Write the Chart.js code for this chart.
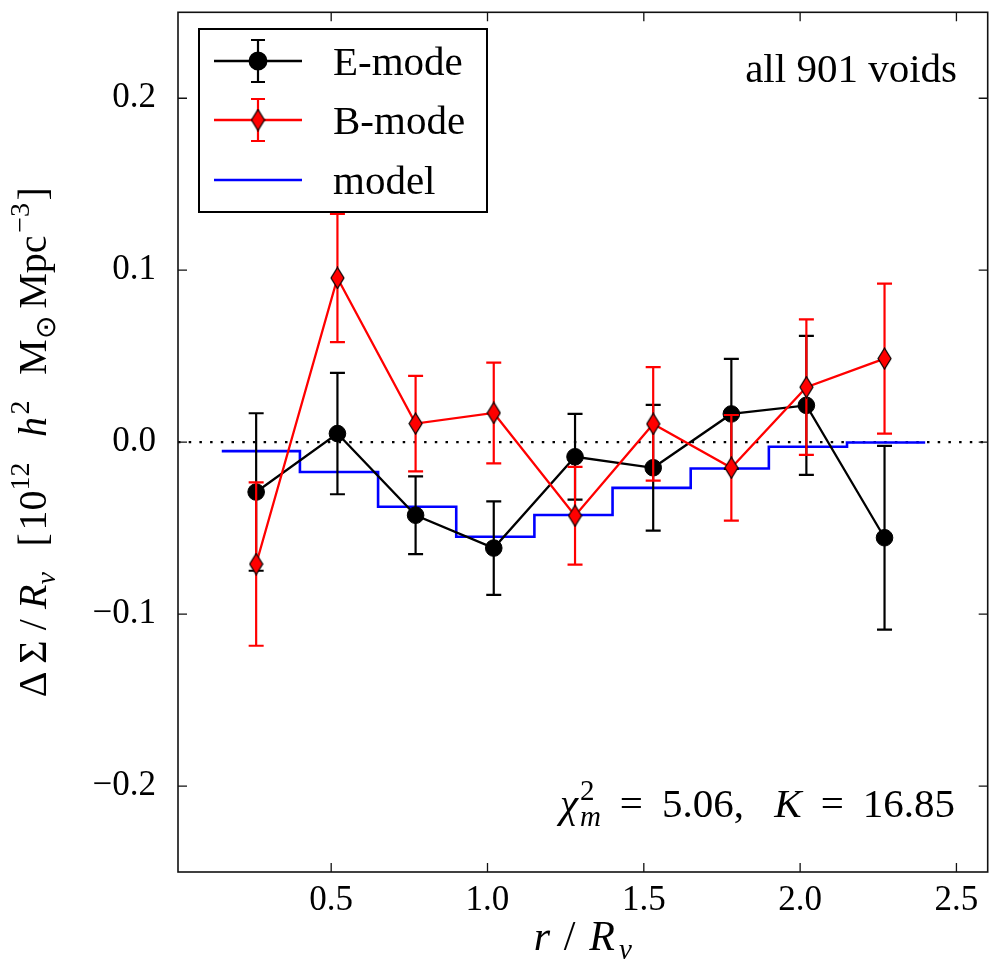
<!DOCTYPE html>
<html>
<head>
<meta charset="utf-8">
<script src="https://cdn.jsdelivr.net/npm/chart.js@4.4.1/dist/chart.umd.min.js"></script>
<style>
html,body{margin:0;padding:0;background:#fff;}
canvas{display:block;}
</style>
</head>
<body>
<canvas id="voidChart" width="1000" height="972"></canvas>
<script>
// measured points, r/R_v
const radii = [0.26, 0.52, 0.77, 1.02, 1.28, 1.53, 1.78, 2.02, 2.27];
const eMode = [-0.029, 0.005, -0.0425, -0.0616, -0.0085, -0.0149, 0.0164, 0.0214, -0.0556];
const eModeErr = [0.0458, 0.0353, 0.0226, 0.0272, 0.0249, 0.0366, 0.032, 0.0404, 0.0534];
const bMode = [-0.0709, 0.0955, 0.0108, 0.017, -0.0428, 0.0106, -0.0149, 0.032, 0.0486];
const bModeErr = [0.0475, 0.0373, 0.0278, 0.0293, 0.0284, 0.033, 0.0307, 0.0394, 0.0436];
// model = step function, one level per bin
const modelEdges = [0.15, 0.4, 0.65, 0.9, 1.15, 1.4, 1.65, 1.9, 2.15, 2.4];
const modelLevels = [-0.0052, -0.0174, -0.0376, -0.055, -0.0424, -0.0266, -0.0153, -0.0027, -0.0002];
const xTicks = [0.5, 1.0, 1.5, 2.0, 2.5];
const xTickLabels = ["0.5", "1.0", "1.5", "2.0", "2.5"];
const yTicks = [-0.2, -0.1, 0.0, 0.1, 0.2];
const yTickLabels = ["\u22120.2", "\u22120.1", "0.0", "0.1", "0.2"];
const xRange = [0.01, 2.6];
const yRange = [-0.25, 0.25];

const SERIF = "'Liberation Serif', serif";

function makeDiamond(w, h){
  const c = document.createElement("canvas");
  c.width = w + 2; c.height = h + 2;
  const g = c.getContext("2d");
  g.beginPath();
  g.moveTo(c.width/2, 1);
  g.lineTo(c.width - 1, c.height/2);
  g.lineTo(c.width/2, c.height - 1);
  g.lineTo(1, c.height/2);
  g.closePath();
  g.fillStyle = "#ff0000"; g.fill();
  g.lineWidth = 1.2; g.strokeStyle = "#000"; g.stroke();
  return c;
}
const diamond = makeDiamond(13, 21);

// small rich-text helper (italic / sup / sub pieces), spread out to a target width
function segFont(s, size){
  const f = (s.sup || s.sub) ? size*0.7 : size;
  return (s.it ? "italic " : "") + Math.round(f) + "px " + SERIF;
}
function layoutRich(ctx, segs, size, target){
  let w = 0, held = 0, g = 0;
  const widths = segs.map(s => { ctx.font = segFont(s, size); return ctx.measureText(s.t).width; });
  segs.forEach((s, i) => {
    if (s.hold) held = widths[i]; else { w += Math.max(widths[i], held); held = 0; }
    g += s.gap || 0;
  });
  const k = g > 0 ? Math.max(0, (target - w)/g) : 0;
  return {widths, k, total: target ? Math.max(target, w) : w};
}
function drawRich(ctx, segs, x, y, size, target){
  const L = layoutRich(ctx, segs, size, target);
  let cx = x, held = 0;
  segs.forEach((s, i) => {
    ctx.font = segFont(s, size);
    const dy = s.sup ? -0.42*size : (s.sub ? 0.22*size : 0);
    ctx.fillText(s.t, cx, y + dy);
    const sw = L.widths[i] + (s.gap || 0)*L.k;
    if (s.hold) held = sw; else { cx += Math.max(sw, held); held = 0; }
  });
  return L.total;
}

const yTitle = [
  {t:"\u0394", gap:0.3}, {t:"\u03a3", gap:0.4}, {t:"/", gap:0.4}, {t:"R", it:1}, {t:"v", it:1, sub:1, gap:1},
  {t:"[", gap:0.1}, {t:"10"}, {t:"12", sup:1, gap:1}, {t:"h", it:1, gap:0.1}, {t:"2", sup:1, gap:1},
  {t:"M"}, {t:"\u2299", sub:1, gap:0.3}, {t:"Mpc", gap:0.1}, {t:"\u22123", sup:1, gap:0.1}, {t:"]"}
];
const xTitle = [{t:"r", it:1, gap:1}, {t:"/", gap:1}, {t:"R", it:1, gap:0.3}, {t:"v", it:1, sub:1}];
const chiNote = [
  {t:"\u03c7", it:1, gap:0.1}, {t:"2", sup:1, hold:1}, {t:"m", it:1, sub:1, gap:1},
  {t:"=", gap:1}, {t:"5.06,", gap:1.6}, {t:"K", it:1, gap:1}, {t:"=", gap:1}, {t:"16.85"}
];

const errorBars = {
  id: "errorBars",
  beforeDatasetDraw(chart, args){
    const ds = chart.data.datasets[args.index];
    if(!ds.errors) return;
    const ctx = chart.ctx, ys = chart.scales.y, a = chart.chartArea;
    ctx.save();
    ctx.beginPath(); ctx.rect(a.left, a.top, a.right - a.left, a.bottom - a.top); ctx.clip();
    ctx.strokeStyle = ds.borderColor; ctx.lineWidth = 2.2;
    args.meta.data.forEach((pt, i) => {
      const v = ds.data[i].y, e = ds.errors[i];
      const top = ys.getPixelForValue(v + e), bot = ys.getPixelForValue(v - e);
      ctx.beginPath();
      ctx.moveTo(pt.x, top); ctx.lineTo(pt.x, bot);
      ctx.moveTo(pt.x - 7.5, top); ctx.lineTo(pt.x + 7.5, top);
      ctx.moveTo(pt.x - 7.5, bot); ctx.lineTo(pt.x + 7.5, bot);
      ctx.stroke();
    });
    ctx.restore();
  }
};

const frameAndText = {
  id: "frameAndText",
  afterDatasetsDraw(chart){
    const ctx = chart.ctx, a = chart.chartArea;
    const xs = chart.scales.x, ys = chart.scales.y;
    ctx.save();
    // spines + inward ticks on all four sides
    ctx.strokeStyle = "#111"; ctx.lineWidth = 1.6;
    ctx.strokeRect(a.left, a.top, a.right - a.left, a.bottom - a.top);
    ctx.lineWidth = 1.3;
    ctx.beginPath();
    xTicks.forEach(v => {
      const px = xs.getPixelForValue(v);
      ctx.moveTo(px, a.bottom); ctx.lineTo(px, a.bottom - 9);
      ctx.moveTo(px, a.top); ctx.lineTo(px, a.top + 9);
    });
    yTicks.forEach(v => {
      const py = ys.getPixelForValue(v);
      ctx.moveTo(a.left, py); ctx.lineTo(a.left + 9, py);
      ctx.moveTo(a.right, py); ctx.lineTo(a.right - 9, py);
    });
    ctx.stroke();

    ctx.fillStyle = "#000";
    ctx.textBaseline = "alphabetic";
    ctx.textAlign = "left";
    // axis titles
    drawRich(ctx, xTitle, (a.left + a.right)/2 - 49, 950, 42, 98);
    ctx.save();
    ctx.translate(46, (a.top + a.bottom)/2);
    ctx.rotate(-Math.PI/2);
    drawRich(ctx, yTitle, -255, 0, 40, 510);
    ctx.restore();

    // annotations
    ctx.font = "41px " + SERIF;
    ctx.textAlign = "right";
    ctx.fillText("all 901 voids", 957, 82);
    ctx.textAlign = "left";
    drawRich(ctx, chiNote, 560, 817, 41, 395);

    // legend box
    const box = {l:199, t:29, r:487, b:212};
    const rows = [61, 120, 180];
    ctx.fillStyle = "#fff";
    ctx.fillRect(box.l, box.t, box.r - box.l, box.b - box.t);
    ctx.strokeStyle = "#000"; ctx.lineWidth = 2;
    ctx.strokeRect(box.l, box.t, box.r - box.l, box.b - box.t);
    chart.data.datasets.filter(d => d.label).forEach((d, i) => {
      const y = rows[i];
      ctx.strokeStyle = d.borderColor;
      if(d.errors){
        ctx.lineWidth = 2.2;
        ctx.beginPath();
        ctx.moveTo(258, y - 21); ctx.lineTo(258, y + 21);
        ctx.moveTo(251, y - 21); ctx.lineTo(265, y - 21);
        ctx.moveTo(251, y + 21); ctx.lineTo(265, y + 21);
        ctx.stroke();
      }
      ctx.lineWidth = d.borderWidth;
      ctx.beginPath(); ctx.moveTo(214, y); ctx.lineTo(302, y); ctx.stroke();
      if(d.pointRadius > 0){
        ctx.fillStyle = d.pointBackgroundColor || d.backgroundColor;
        ctx.strokeStyle = "#000";
        Chart.helpers.drawPoint(ctx, {pointStyle: d.pointStyle, radius: d.pointRadius, borderWidth: 1, rotation: 0}, 258, y);
      }
      ctx.fillStyle = "#000";
      ctx.font = "41px " + SERIF;
      ctx.fillText(d.label, 333, y + 14);
    });
    ctx.restore();
  }
};

const tickFont = {family: SERIF, size: 35};
new Chart(document.getElementById("voidChart").getContext("2d"), {
  type: "scatter",
  data: {
    datasets: [
      {
        label: "E-mode",
        data: radii.map((r, i) => ({x: r, y: eMode[i]})),
        errors: eModeErr,
        showLine: true,
        borderColor: "#000000",
        backgroundColor: "#000000",
        pointBackgroundColor: "#000000",
        pointBorderColor: "#000000",
        borderWidth: 2.3,
        pointRadius: 8.3,
        pointBorderWidth: 1,
        pointStyle: "circle",
        order: 1
      },
      {
        label: "B-mode",
        data: radii.map((r, i) => ({x: r, y: bMode[i]})),
        errors: bModeErr,
        showLine: true,
        borderColor: "#ff0000",
        backgroundColor: "#ff0000",
        pointBackgroundColor: "#ff0000",
        borderWidth: 2.3,
        pointRadius: 10,
        pointStyle: diamond,
        order: 0
      },
      {
        label: "model",
        data: modelEdges.map((e, i) => ({x: e, y: modelLevels[Math.min(i, modelLevels.length - 1)]})),
        showLine: true,
        stepped: "before",
        borderColor: "#0000ff",
        backgroundColor: "#0000ff",
        borderWidth: 2.6,
        pointRadius: 0,
        order: 2
      },
      {
        label: "",
        data: xRange.map(x => ({x: x, y: 0})),
        showLine: true,
        borderColor: "#000000",
        borderWidth: 2.2,
        borderDash: [2.5, 8.2],
        pointRadius: 0,
        order: 3
      }
    ]
  },
  options: {
    responsive: false,
    animation: false,
    events: [],
    layout: {padding: {top: 8, right: 2, left: 0, bottom: 0}},
    plugins: {legend: {display: false}, tooltip: {enabled: false}},
    scales: {
      x: {
        type: "linear",
        min: xRange[0], max: xRange[1],
        grid: {display: false},
        border: {display: false},
        afterBuildTicks: s => { s.ticks = xTicks.map(v => ({value: v})); },
        ticks: {callback: (v, i) => xTickLabels[i], font: tickFont, color: "#000", padding: 0, maxRotation: 0, autoSkip: false},
        afterFit: s => { s.height = 100; s.paddingLeft = 0; s.paddingRight = 0; }
      },
      y: {
        type: "linear",
        min: yRange[0], max: yRange[1],
        grid: {display: false},
        border: {display: false},
        afterBuildTicks: s => { s.ticks = yTicks.map(v => ({value: v})); },
        ticks: {callback: (v, i) => yTickLabels[i], font: tickFont, color: "#000", padding: 14, autoSkip: false},
        afterFit: s => { s.width = 178; s.paddingTop = 0; s.paddingBottom = 0; }
      }
    }
  },
  plugins: [errorBars, frameAndText]
});
</script>
</body>
</html>
